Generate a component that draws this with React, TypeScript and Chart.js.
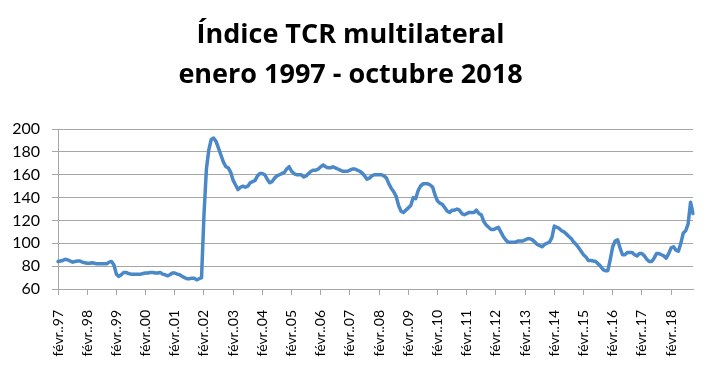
import React, { useEffect, useRef } from "react";
import { Chart, registerables } from "chart.js";

Chart.register(...registerables);

const titleLines = ["Índice TCR multilateral", "enero 1997 - octubre 2018"];

// one tick label per year (every 12 months)
const tickLabels = [
  "févr..97", "févr..98", "févr..99", "févr..00", "févr..01", "févr..02",
  "févr..03", "févr..04", "févr..05", "févr..06", "févr..07", "févr..08",
  "févr..09", "févr..10", "févr..11", "févr..12", "févr..13", "févr..14",
  "févr..15", "févr..16", "févr..17", "févr..18",
];

// monthly index, Jan 1997 - Oct 2018
const values = [
  84, 84.5, 85, 86, 85.5, 84.5, 83.5, 84, 84.5, 84.5, 83.5, 83,
  82.5, 82.5, 83, 82.5, 82, 82, 82, 82, 82, 83.5, 84, 81,
  73, 71, 72.5, 74.5, 74.5, 73.5, 73, 73, 73, 73, 73, 73.5,
  74, 74, 74.5, 74.5, 74, 74, 74.5, 73, 72.5, 71.5, 72.5, 74,
  74, 73, 72.5, 71, 70, 69, 69, 69.5, 69.5, 68, 69, 70,
  125, 165, 182, 191, 192, 189, 183, 177, 171, 167, 166, 162,
  155, 151, 147, 149, 150, 149, 150, 153, 154, 155, 159, 161,
  161, 160, 156, 153, 154, 157, 159, 160, 161, 162, 165, 167,
  163, 161, 160, 160, 160, 158, 159, 161, 163, 164, 164, 165,
  167, 168.5, 167, 166, 166, 167, 166, 165, 164, 163, 163, 163,
  164, 165, 165, 164, 163, 161.5, 159, 156, 157, 159, 160, 160,
  160, 160, 159, 157, 152, 148, 145, 141, 133, 128, 127, 129,
  131, 133, 140, 139, 146, 150, 152, 152, 152, 151, 149, 142,
  137, 135, 134, 131, 128, 127, 129, 129, 130, 129, 126, 125,
  126, 127, 127, 127, 129, 126, 125, 119, 116, 114, 112, 112,
  113, 114, 110, 106, 103, 101, 101, 101, 101, 102, 102, 102,
  103, 104, 104, 103, 101, 99, 98, 97, 99, 100, 101, 105,
  115, 114, 113, 111, 110, 108, 106, 104, 101, 99, 96, 93,
  90, 88, 85, 85, 84.5, 84, 82, 80, 77, 76, 76, 86,
  97, 102, 103, 96, 90, 90, 92, 92, 92, 90, 89, 91,
  91, 89, 86, 84, 84, 87, 91, 91, 90, 89, 87, 91,
  96, 97, 94, 93, 100, 109, 111, 117, 136, 126,
];

const yMin = 60;
const yMax = 200;
const yStep = 20;

export default function App() {
  const ref = useRef<HTMLCanvasElement | null>(null);

  useEffect(() => {
    if (!ref.current) return;
    const categories = values.map((_, i) => String(i));
    const font = 'Lato, "Open Sans", sans-serif';
    const chart = new Chart(ref.current, {
      type: "line",
      data: {
        labels: categories,
        datasets: [
          {
            data: values,
            borderColor: "#4a88c7",
            borderWidth: 3.5,
            pointRadius: 0,
            tension: 0,
            borderJoinStyle: "round",
            borderCapStyle: "round",
            fill: false,
          },
        ],
      },
      options: {
        responsive: false,
        animation: false,
        layout: { padding: { left: 8, right: 16, top: 0, bottom: 0 } },
        plugins: {
          legend: { display: false },
          tooltip: { enabled: false },
          title: {
            display: true,
            text: titleLines,
            color: "#000",
            font: { family: '"Open Sans", Lato, sans-serif', size: 27, weight: "bold", lineHeight: 1.5 },
            padding: { top: 15, bottom: 33 },
          },
        },
        scales: {
          x: {
            type: "category",
            offset: false,
            grid: {
              drawOnChartArea: false,
              drawTicks: true,
              tickLength: 6,
              color: "#a6a6a6",
            },
            border: { display: true, color: "#a6a6a6", width: 1 },
            ticks: {
              autoSkip: false,
              minRotation: 90,
              maxRotation: 90,
              padding: 15,
              color: "#000",
              font: { family: font, size: 14 },
              callback: (_v: any, i: number) =>
                i % 12 === 0 ? tickLabels[i / 12] : null,
            },
            afterFit: (scale: any) => {
              scale.height = 94;
            },
          },
          y: {
            min: yMin,
            max: yMax,
            grid: {
              color: "#a6a6a6",
              tickLength: 6,
              drawTicks: true,
            },
            border: { display: true, color: "#a6a6a6", width: 1 },
            ticks: {
              stepSize: yStep,
              padding: 12,
              color: "#000",
              font: { family: font, size: 16 },
            },
            afterFit: (scale: any) => {
              scale.width = 50;
            },
          },
        },
      },
    });
    return () => chart.destroy();
  }, []);

  return (
    <div style={{ position: "absolute", left: 0, top: 0, width: 709, height: 383, background: "#fff" }}>
      <canvas ref={ref} width={709} height={383} style={{ display: "block" }} />
    </div>
  );
}
